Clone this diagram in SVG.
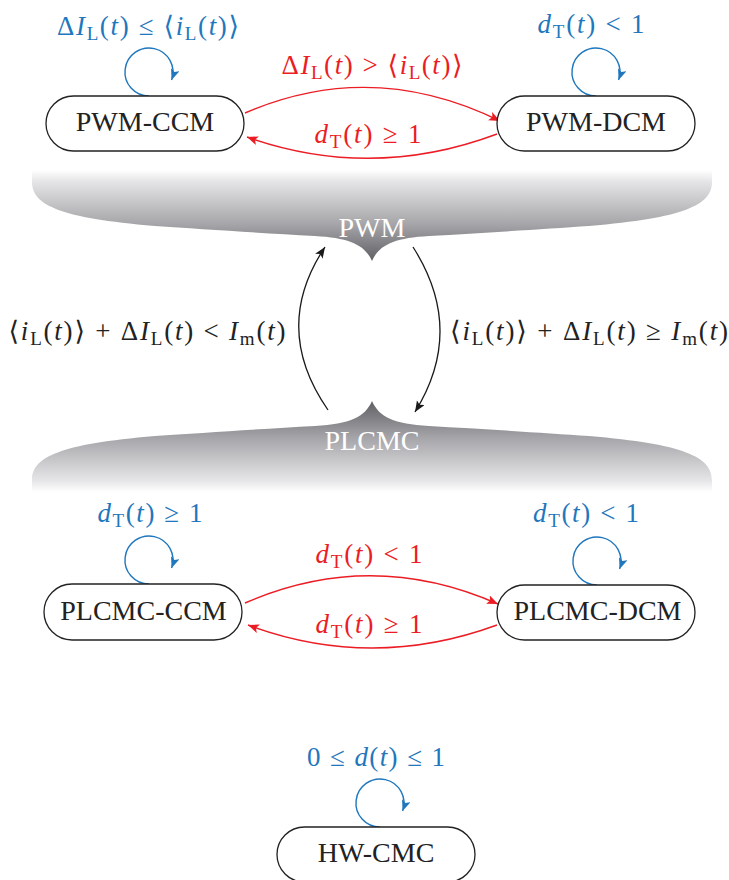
<svg xmlns="http://www.w3.org/2000/svg" width="729" height="880" viewBox="0 0 729 880">
<style>
.nd rect{fill:#fff;stroke:#222;stroke-width:1.3}
.nd text{font-family:"Liberation Serif",serif;font-size:28px;fill:#222;text-anchor:middle}
.m{font-family:"Liberation Serif","DejaVu Serif",serif;font-size:27px;text-anchor:middle}
.i{font-style:italic}
.s{font-size:19px}
.blue{fill:#1f77bd}
.red{fill:#ec1c24}
.blk{fill:#222}
.lb{fill:none;stroke:#1f77bd;stroke-width:1.4}
.lr{fill:none;stroke:#ec1c24;stroke-width:1.4}
.lk{fill:none;stroke:#1a1a1a;stroke-width:1.3}
.bl{font-family:"Liberation Serif",serif;font-size:28px;fill:#fff;text-anchor:middle}
</style>
<defs>
<marker id="ab" markerUnits="userSpaceOnUse" markerWidth="13" markerHeight="11" refX="11" refY="4.5" orient="auto"><path d="M0,0 L11,4.5 L0,9 L2.5,4.5 Z" fill="#1f77bd"/></marker>
<marker id="ar" markerUnits="userSpaceOnUse" markerWidth="13" markerHeight="11" refX="11" refY="4.5" orient="auto"><path d="M0,0 L11,4.5 L0,9 L2.5,4.5 Z" fill="#ec1c24"/></marker>
<marker id="ak" markerUnits="userSpaceOnUse" markerWidth="13" markerHeight="11" refX="11" refY="4.5" orient="auto"><path d="M0,0 L11,4.5 L0,9 L2.5,4.5 Z" fill="#1a1a1a"/></marker>
<linearGradient id="g" gradientUnits="userSpaceOnUse" x1="0" y1="170" x2="0" y2="262">
<stop offset="0" stop-color="#ffffff"/>
<stop offset="0.12" stop-color="#e6e6e8"/>
<stop offset="0.6" stop-color="#a4a4a8"/>
<stop offset="1" stop-color="#5e5e62"/>
</linearGradient>
<path id="brace" d="M 32,170 H 712 V 182 C 712,205 684,218 589,226 C 544,229 484,233 429,236 C 394,238 379,245 372,261 C 365,245 350,238 315,236 C 260,233 200,229 155,226 C 60,218 32,205 32,182 Z" fill="url(#g)"/>
</defs>

<g id="brace-pwm">
<use href="#brace"/>
<text class="bl" x="372" y="237">PWM</text>
</g>
<g id="brace-plcmc">
<use href="#brace" transform="translate(0,662) scale(1,-1)"/>
<text class="bl" x="372" y="450">PLCMC</text>
</g>

<g id="connectors">
<path class="lb" d="M 149,96 A 24 24 0 1 1 171.6,80" marker-end="url(#ab)"/>
<path class="lb" d="M 596,96 A 24 24 0 1 1 618.6,80" marker-end="url(#ab)"/>
<path class="lb" d="M 149,584 A 24 24 0 1 1 171.6,568" marker-end="url(#ab)"/>
<path class="lb" d="M 597,585 A 24 24 0 1 1 619.6,569" marker-end="url(#ab)"/>
<path class="lb" d="M 380,827 A 24 24 0 1 1 402.6,811" marker-end="url(#ab)"/>
<path class="lr" d="M 245,113 Q 372,58 500,121" marker-end="url(#ar)"/>
<path class="lr" d="M 497,134 Q 372,181 247,137" marker-end="url(#ar)"/>
<path class="lr" d="M 245,603 Q 371,548 498,604" marker-end="url(#ar)"/>
<path class="lr" d="M 497,625 Q 372,671 248,625" marker-end="url(#ar)"/>
<path class="lk" d="M 328,410 Q 271,328 325,247" marker-end="url(#ak)"/>
<path class="lk" d="M 413,247 Q 466,330 415,412" marker-end="url(#ak)"/>
</g>

<g id="labels">
<text class="m blue" x="148" y="35" textLength="182" lengthAdjust="spacing">Δ<tspan class="i">I</tspan><tspan class="s" dy="5">L</tspan><tspan dy="-5">(</tspan><tspan class="i">t</tspan>) ≤ ⟨<tspan class="i">i</tspan><tspan class="s" dy="5">L</tspan><tspan dy="-5">(</tspan><tspan class="i">t</tspan>)⟩</text>
<text class="m blue" x="591" y="33" textLength="107" lengthAdjust="spacing"><tspan class="i">d</tspan><tspan class="s" dy="5">T</tspan><tspan dy="-5">(</tspan><tspan class="i">t</tspan>) &lt; 1</text>
<text class="m red" x="372" y="74" textLength="181" lengthAdjust="spacing">Δ<tspan class="i">I</tspan><tspan class="s" dy="5">L</tspan><tspan dy="-5">(</tspan><tspan class="i">t</tspan>) &gt; ⟨<tspan class="i">i</tspan><tspan class="s" dy="5">L</tspan><tspan dy="-5">(</tspan><tspan class="i">t</tspan>)⟩</text>
<text class="m red" x="368" y="143" textLength="107" lengthAdjust="spacing"><tspan class="i">d</tspan><tspan class="s" dy="5">T</tspan><tspan dy="-5">(</tspan><tspan class="i">t</tspan>) ≥ 1</text>
<text class="m blk" x="147" y="340" textLength="277" lengthAdjust="spacing">⟨<tspan class="i">i</tspan><tspan class="s" dy="5">L</tspan><tspan dy="-5">(</tspan><tspan class="i">t</tspan>)⟩ + Δ<tspan class="i">I</tspan><tspan class="s" dy="5">L</tspan><tspan dy="-5">(</tspan><tspan class="i">t</tspan>) &lt; <tspan class="i">I</tspan><tspan class="s" dy="5">m</tspan><tspan dy="-5">(</tspan><tspan class="i">t</tspan>)</text>
<text class="m blk" x="589" y="340" textLength="278" lengthAdjust="spacing">⟨<tspan class="i">i</tspan><tspan class="s" dy="5">L</tspan><tspan dy="-5">(</tspan><tspan class="i">t</tspan>)⟩ + Δ<tspan class="i">I</tspan><tspan class="s" dy="5">L</tspan><tspan dy="-5">(</tspan><tspan class="i">t</tspan>) ≥ <tspan class="i">I</tspan><tspan class="s" dy="5">m</tspan><tspan dy="-5">(</tspan><tspan class="i">t</tspan>)</text>
<text class="m blue" x="150" y="522" textLength="105" lengthAdjust="spacing"><tspan class="i">d</tspan><tspan class="s" dy="5">T</tspan><tspan dy="-5">(</tspan><tspan class="i">t</tspan>) ≥ 1</text>
<text class="m blue" x="586" y="522" textLength="106" lengthAdjust="spacing"><tspan class="i">d</tspan><tspan class="s" dy="5">T</tspan><tspan dy="-5">(</tspan><tspan class="i">t</tspan>) &lt; 1</text>
<text class="m red" x="369" y="563" textLength="107" lengthAdjust="spacing"><tspan class="i">d</tspan><tspan class="s" dy="5">T</tspan><tspan dy="-5">(</tspan><tspan class="i">t</tspan>) &lt; 1</text>
<text class="m red" x="369" y="633" textLength="107" lengthAdjust="spacing"><tspan class="i">d</tspan><tspan class="s" dy="5">T</tspan><tspan dy="-5">(</tspan><tspan class="i">t</tspan>) ≥ 1</text>
<text class="m blue" x="376" y="766" textLength="138" lengthAdjust="spacing">0 ≤ <tspan class="i">d</tspan>(<tspan class="i">t</tspan>) ≤ 1</text>
</g>

<g id="pwm-ccm" class="nd"><rect x="46" y="96" width="198" height="55" rx="27.5"/><text x="145" y="131">PWM-CCM</text></g>
<g id="pwm-dcm" class="nd"><rect x="497" y="96" width="198" height="55" rx="27.5"/><text x="596" y="131">PWM-DCM</text></g>
<g id="plcmc-ccm" class="nd"><rect x="44" y="584" width="198" height="56" rx="28"/><text x="143.5" y="620">PLCMC-CCM</text></g>
<g id="plcmc-dcm" class="nd"><rect x="497" y="585" width="198" height="55" rx="27.5"/><text x="597.5" y="620">PLCMC-DCM</text></g>
<g id="hw-cmc" class="nd"><rect x="277" y="827" width="198" height="55" rx="27.5"/><text x="376" y="862">HW-CMC</text></g>
</svg>
